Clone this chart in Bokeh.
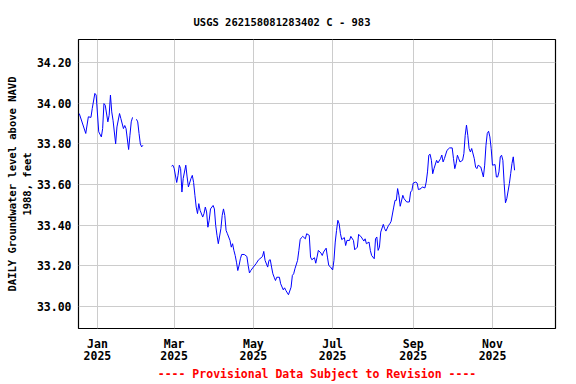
import pandas as pd
from bokeh.plotting import figure
from bokeh.models import Range1d, FixedTicker, DatetimeTickFormatter, PrintfTickFormatter
from bokeh.embed import file_html
from bokeh.resources import INLINE

# ---------------- data (days since 2025-01-01, water level in feet) ----------------
origin = pd.Timestamp("2025-01-01")

days_a = [-14, -9, -7, -5, -4, -2, -1, 1, 3, 4, 5, 6, 8, 9, 10, 11, 12, 14, 15, 17,
          18, 20, 21, 22, 24, 25, 26, 27]
vals_a = [33.949, 33.851, 33.933, 33.930, 33.974, 34.048, 34.040, 33.859, 33.834, 33.875,
          33.998, 33.990, 33.908, 33.940, 34.040, 33.957, 33.916, 33.800, 33.883, 33.949,
          33.925, 33.875, 33.890, 33.875, 33.772, 33.842, 33.908, 33.930]

days_b = [30, 31, 32, 33, 34, 35]
vals_b = [33.921, 33.908, 33.851, 33.800, 33.785, 33.793]

days_c = [57, 58, 59, 61, 62, 63, 64, 65, 66, 68, 69, 70, 72, 73, 74, 75, 76, 77, 78, 79,
          81, 82, 83, 84, 85, 86, 87, 89, 90, 91, 92, 93, 95, 96, 97, 98, 99, 100, 102, 103,
          104, 105, 106, 107, 108, 109, 110, 111, 113, 115, 116, 117, 118, 120, 122, 124, 125, 127, 128, 129,
          131, 132, 133, 134, 135, 136, 137, 138, 140, 141, 143, 144, 145, 147, 149, 150, 151, 152, 154, 155,
          156, 157, 158, 160, 161, 163, 164, 165, 167, 168, 169, 170, 172, 173, 174, 176, 177, 178, 179, 181,
          182, 183, 184, 185, 186, 187, 188, 190, 191, 192, 194, 195, 197, 198, 200, 201, 203, 205, 206, 207,
          209, 210, 211, 213, 214, 215, 216, 217, 218, 220, 221, 222, 224, 225, 226, 228, 229, 230, 231, 232,
          233, 235, 236, 238, 240, 241, 242, 243, 245, 246, 247, 249, 250, 252, 253, 254, 255, 256, 257, 258,
          259, 261, 262, 264, 265, 266, 267, 269, 271, 273, 274, 275, 276, 277, 278, 279, 281, 282, 283, 284,
          285, 286, 287, 288, 290, 291, 292, 293, 295, 296, 297, 298, 299, 300, 301, 302, 303, 304, 306, 307,
          308, 309, 310, 311, 312, 313, 314, 315, 317, 318, 319, 320, 321]
vals_c = [33.690, 33.695, 33.680, 33.610, 33.645, 33.695, 33.678, 33.563, 33.630, 33.695,
          33.637, 33.588, 33.630, 33.645, 33.610, 33.547, 33.489, 33.457, 33.506, 33.473,
          33.440, 33.457, 33.489, 33.465, 33.390, 33.424, 33.480, 33.497, 33.480, 33.399,
          33.350, 33.309, 33.383, 33.448, 33.480, 33.448, 33.374, 33.358, 33.325, 33.292,
          33.309, 33.276, 33.251, 33.218, 33.177, 33.202, 33.235, 33.256, 33.256, 33.246,
          33.202, 33.165, 33.177, 33.194, 33.210, 33.230, 33.235, 33.246, 33.271, 33.227,
          33.194, 33.227, 33.230, 33.194, 33.161, 33.144, 33.128, 33.144, 33.144, 33.112,
          33.082, 33.092, 33.079, 33.058, 33.095, 33.153, 33.161, 33.186, 33.227, 33.276,
          33.329, 33.339, 33.345, 33.333, 33.358, 33.350, 33.243, 33.230, 33.240, 33.213,
          33.243, 33.276, 33.263, 33.251, 33.268, 33.287, 33.243, 33.202, 33.197, 33.180,
          33.227, 33.317, 33.374, 33.424, 33.407, 33.358, 33.329, 33.339, 33.300, 33.325,
          33.325, 33.345, 33.325, 33.279, 33.292, 33.355, 33.342, 33.322, 33.333, 33.309,
          33.317, 33.276, 33.251, 33.235, 33.333, 33.342, 33.276, 33.292, 33.366, 33.404,
          33.383, 33.371, 33.399, 33.407, 33.419, 33.489, 33.522, 33.522, 33.580, 33.547,
          33.493, 33.547, 33.530, 33.514, 33.514, 33.563, 33.571, 33.607, 33.612, 33.607,
          33.575, 33.580, 33.588, 33.583, 33.612, 33.662, 33.744, 33.749, 33.719, 33.653,
          33.678, 33.719, 33.706, 33.727, 33.745, 33.711, 33.727, 33.768, 33.780, 33.780,
          33.727, 33.678, 33.703, 33.744, 33.727, 33.711, 33.719, 33.752, 33.842, 33.892,
          33.842, 33.777, 33.760, 33.777, 33.727, 33.686, 33.678, 33.695, 33.686, 33.662,
          33.637, 33.695, 33.793, 33.851, 33.862, 33.834, 33.777, 33.695, 33.698, 33.637,
          33.637, 33.662, 33.736, 33.744, 33.719, 33.604, 33.510, 33.530, 33.604, 33.653,
          33.703, 33.736, 33.670]

tick_dates = ["2025-01-01", "2025-03-01", "2025-05-01", "2025-07-01", "2025-09-01", "2025-11-01"]
y_ticks = [33.0, 33.2, 33.4, 33.6, 33.8, 34.0, 34.2]

title_text = "USGS 262158081283402 C  - 983"
footer_text = "---- Provisional Data Subject to Revision ----"
ylabel_text = "DAILY Groundwater level above NAVD\n1988, feet"

FONT = "DejaVu Sans Mono"


def to_dates(days):
    return origin + pd.to_timedelta(days, unit="D")


p = figure(width=576, height=384, x_axis_type="datetime",
           output_backend="svg", toolbar_location=None,
           x_range=Range1d(pd.Timestamp("2024-12-17 10:00"), pd.Timestamp("2025-12-19 12:00")),
           y_range=Range1d(32.892, 34.313),
           min_border_left=78, min_border_right=21, min_border_top=39, min_border_bottom=55)

for d, v in ((days_a, vals_a), (days_b, vals_b), (days_c, vals_c)):
    p.line(to_dates(d), v, line_color="#0000ff", line_width=1)

# title
p.title.text = title_text
p.title.align = "left"
p.title.offset = 115
p.title.standoff = 24
p.title.text_font = FONT
p.title.text_font_size = "10.5px"
p.title.text_font_style = "bold"
p.title.text_color = "black"

# frame
p.outline_line_color = "black"
p.outline_line_width = 1.2
p.background_fill_color = "white"
p.border_fill_color = "white"

# x axis (footer note as the axis label)
xticks_ms = [pd.Timestamp(t).value // 10**6 for t in tick_dates]
p.xaxis.ticker = FixedTicker(ticks=xticks_ms)
fmt = "%b\n%Y"
p.xaxis.formatter = DatetimeTickFormatter(years=fmt, months=fmt, days=fmt, hours=fmt,
                                          hourmin=fmt, minutes=fmt, minsec=fmt,
                                          seconds=fmt, milliseconds=fmt, microseconds=fmt)
p.xaxis.major_label_standoff = 8
p.xaxis.major_label_text_line_height = 0.9
p.xaxis.axis_label = footer_text
p.xaxis.axis_label_text_color = "red"
p.xaxis.axis_label_text_font = FONT
p.xaxis.axis_label_text_font_size = "11.5px"
p.xaxis.axis_label_text_font_style = "bold"
p.xaxis.axis_label_standoff = 1
p.xaxis.axis_label_text_line_height = 0.9

# y axis
p.yaxis.ticker = FixedTicker(ticks=y_ticks)
p.yaxis.formatter = PrintfTickFormatter(format="%.2f")
p.yaxis.axis_label = ylabel_text
p.yaxis.axis_label_text_font = FONT
p.yaxis.axis_label_text_font_size = "10.5px"
p.yaxis.axis_label_text_font_style = "bold"
p.yaxis.axis_label_text_color = "black"
p.yaxis.axis_label_standoff = 1
p.yaxis.major_label_standoff = 7

for ax in (p.xaxis, p.yaxis):
    ax.axis_line_color = None
    ax.major_tick_line_color = None
    ax.minor_tick_line_color = None
    ax.major_tick_out = 0
    ax.major_tick_in = 0
    ax.minor_tick_out = 0
    ax.minor_tick_in = 0
    ax.major_label_text_font = FONT
    ax.major_label_text_font_size = "11.5px"
    ax.major_label_text_font_style = "bold"
    ax.major_label_text_color = "black"

p.xgrid.grid_line_color = "#cccccc"
p.ygrid.grid_line_color = "#cccccc"
p.xgrid.grid_line_width = 1
p.ygrid.grid_line_width = 1

open("out.html", "w").write(file_html(p, INLINE))
